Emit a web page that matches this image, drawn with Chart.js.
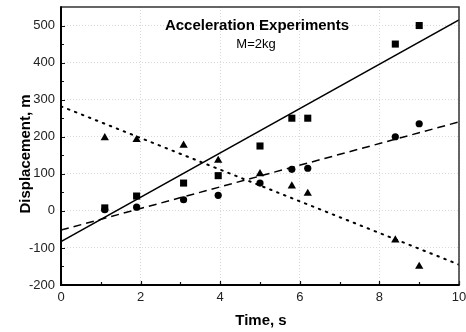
<!DOCTYPE html>
<html>
<head>
<meta charset="utf-8">
<script src="https://cdn.jsdelivr.net/npm/chart.js@4"></script>
<style>
html,body{margin:0;padding:0;background:#fff;}
#wrap{width:466px;height:332px;position:relative;}
</style>
</head>
<body>
<div id="wrap"><canvas id="c" width="466" height="332"></canvas></div>
<script>
// ---- data ----
const timeX = [1.1, 1.9, 3.08, 3.95, 5.0, 5.8, 6.2, 8.4, 9.0];
const squareY = [8, 40, 75, 95, 175, 250, 250, 450, 500];
const circleY = [3, 10, 30, 42, 75, 112, 115, 200, 235];
const triangleY = [197, 192, 177, 136, 100, 67, 47, -79, -150];
const fitX = [0, 10];
const solidFit = [-83, 515];
const dashedFit = [-52, 240];
const dottedFit = [282, -145];
const xTicks = [0, 2, 4, 6, 8, 10];
const yTicks = [-200, -100, 0, 100, 200, 300, 400, 500];
const xMinor = [1, 3, 5, 7, 9];
const yMinor = [-150, -50, 50, 150, 250, 350, 450];
const titleText = 'Acceleration Experiments';
const subText = 'M=2kg';
const xTitle = 'Time, s';
const yTitle = 'Displacement, m';

const pts = ys => timeX.map((x, i) => ({x: x, y: ys[i]}));
const fit = ys => fitX.map((x, i) => ({x: x, y: ys[i]}));

const decor = {
  id: 'decor',
  afterDatasetsDraw(chart) {
    const ctx = chart.ctx;
    const a = chart.chartArea;
    const xs = chart.scales.x, ys = chart.scales.y;
    ctx.save();
    ctx.strokeStyle = '#111';
    // ticks inward
    ctx.lineWidth = 1.2;
    ctx.beginPath();
    xTicks.forEach(v => { const p = Math.round(xs.getPixelForValue(v)) + 0.5; ctx.moveTo(p, a.bottom); ctx.lineTo(p, a.bottom - 4); });
    xMinor.forEach(v => { const p = Math.round(xs.getPixelForValue(v)) + 0.5; ctx.moveTo(p, a.bottom); ctx.lineTo(p, a.bottom - 3); });
    yTicks.forEach(v => { const p = Math.round(ys.getPixelForValue(v)) + 0.5; ctx.moveTo(a.left, p); ctx.lineTo(a.left + 4, p); });
    yMinor.forEach(v => { const p = Math.round(ys.getPixelForValue(v)) + 0.5; ctx.moveTo(a.left, p); ctx.lineTo(a.left + 3, p); });
    ctx.stroke();
    // box
    ctx.lineWidth = 1.5;
    ctx.strokeStyle = '#333';
    ctx.beginPath();
    ctx.moveTo(a.left, a.top); ctx.lineTo(a.right, a.top); ctx.lineTo(a.right, a.bottom);
    ctx.stroke();
    ctx.lineWidth = 2;
    ctx.strokeStyle = '#000';
    ctx.beginPath();
    ctx.moveTo(a.left, a.top - 0.75); ctx.lineTo(a.left, a.bottom); ctx.lineTo(a.right + 0.75, a.bottom);
    ctx.stroke();
    // texts
    ctx.fillStyle = '#000';
    ctx.textAlign = 'center';
    ctx.textBaseline = 'alphabetic';
    ctx.font = 'bold 15px "Liberation Sans", Arial, sans-serif';
    ctx.fillText(titleText, 257, 30);
    ctx.font = '13px "Liberation Sans", Arial, sans-serif';
    ctx.fillText(subText, 256, 48);
    ctx.font = 'bold 15px "Liberation Sans", Arial, sans-serif';
    ctx.fillText(xTitle, 261, 325);
    ctx.translate(30, 154);
    ctx.rotate(-Math.PI / 2);
    ctx.fillText(yTitle, 0, 0);
    ctx.restore();
  }
};

new Chart(document.getElementById('c'), {
  type: 'scatter',
  data: {
    datasets: [
      {data: fit(solidFit), showLine: true, borderColor: '#000', borderWidth: 1.5, pointRadius: 0, fill: false},
      {data: fit(dashedFit), showLine: true, borderColor: '#000', borderWidth: 1.5, borderDash: [8, 5], pointRadius: 0, fill: false},
      {data: fit(dottedFit), showLine: true, borderColor: '#000', borderWidth: 2, borderDash: [1.5, 6], borderCapStyle: 'round', pointRadius: 0, fill: false},
      {data: pts(squareY), pointStyle: 'rect', pointRadius: 5, backgroundColor: '#000', borderColor: '#000', borderWidth: 0},
      {data: pts(circleY), pointStyle: 'circle', pointRadius: 3.6, backgroundColor: '#000', borderColor: '#000', borderWidth: 0},
      {data: pts(triangleY), pointStyle: 'triangle', pointRadius: 4.8, backgroundColor: '#000', borderColor: '#000', borderWidth: 0}
    ]
  },
  options: {
    responsive: false,
    animation: false,
    events: [],
    layout: {autoPadding: false, padding: {top: 7, right: 7, left: 0, bottom: 0}},
    plugins: {legend: {display: false}, tooltip: {enabled: false}},
    scales: {
      x: {
        type: 'linear', min: 0, max: 10,
        afterBuildTicks: s => { s.ticks = xTicks.map(v => ({value: v})); },
        afterFit: s => { s.height = 47; s.paddingLeft = 0; s.paddingRight = 0; },
        grid: {color: '#d8d8d8', lineWidth: 1, drawTicks: false},
        border: {display: false, dash: [1, 2]},
        ticks: {padding: 5, color: '#222', font: {family: '"Liberation Sans", Arial, sans-serif', size: 13}, maxRotation: 0}
      },
      y: {
        type: 'linear', min: -200, max: 550,
        afterBuildTicks: s => { s.ticks = yTicks.map(v => ({value: v})); },
        afterFit: s => { s.width = 61; s.paddingTop = 0; s.paddingBottom = 0; },
        grid: {color: '#d8d8d8', lineWidth: 1, drawTicks: false},
        border: {display: false, dash: [1, 2]},
        ticks: {padding: 6, color: '#222', font: {family: '"Liberation Sans", Arial, sans-serif', size: 13}}
      }
    }
  },
  plugins: [decor]
});
</script>
</body>
</html>
